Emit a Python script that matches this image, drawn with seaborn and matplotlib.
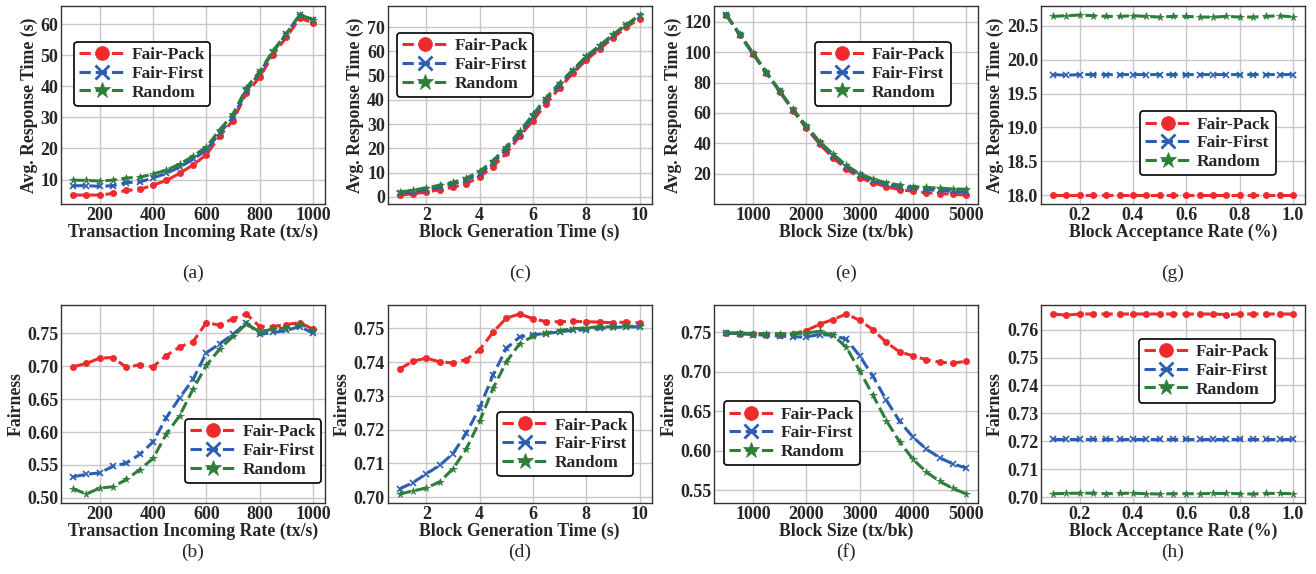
import numpy as np
import pandas as pd
import matplotlib.pyplot as plt
import seaborn as sns
from matplotlib.lines import Line2D

methods = ["Fair-Pack", "Fair-First", "Random"]

# x axes
rate = list(range(100, 1001, 50))
gen_time = [1 + 0.5 * i for i in range(19)]
blk_size = list(range(500, 5001, 250))
accept = [round(0.1 + 0.05 * i, 2) for i in range(19)]

# (a) response time vs incoming rate
a_pack = [5.0, 5.0, 5.0, 5.5, 6.5, 6.8, 8.2, 9.7, 12.0, 14.7, 18.0, 24.0, 29.0, 37.8, 43.0, 50.2, 55.8, 62.0, 60.5]
a_first = [8.0, 8.0, 7.8, 8.0, 9.0, 9.2, 10.5, 12.0, 14.0, 16.5, 19.5, 25.0, 30.0, 38.5, 44.5, 51.0, 57.0, 63.0, 61.5]
a_rand = [9.8, 9.7, 9.5, 9.8, 10.5, 10.7, 11.8, 13.0, 15.0, 17.5, 20.5, 26.0, 31.0, 39.5, 44.8, 51.5, 57.0, 63.0, 61.5]

# (b) fairness vs incoming rate
b_pack = [0.699, 0.704, 0.712, 0.713, 0.698, 0.702, 0.699, 0.716, 0.729, 0.737, 0.766, 0.762, 0.772, 0.779, 0.760, 0.760, 0.763, 0.766, 0.756]
b_first = [0.532, 0.536, 0.538, 0.548, 0.553, 0.566, 0.585, 0.622, 0.652, 0.680, 0.720, 0.734, 0.748, 0.766, 0.748, 0.751, 0.754, 0.760, 0.750]
b_rand = [0.514, 0.506, 0.515, 0.517, 0.528, 0.543, 0.560, 0.597, 0.625, 0.665, 0.701, 0.726, 0.745, 0.764, 0.752, 0.756, 0.758, 0.764, 0.755]

# (c) response time vs block generation time
c_pack = [0.8, 1.3, 2.0, 3.0, 4.0, 5.5, 8.3, 12.5, 18.0, 25.0, 31.5, 38.5, 45.0, 51.0, 56.5, 61.0, 65.5, 70.0, 73.5]
c_first = [1.5, 2.2, 3.0, 4.0, 5.3, 7.0, 9.5, 14.0, 19.5, 26.0, 33.0, 40.0, 46.0, 52.0, 57.5, 62.0, 66.5, 71.0, 74.5]
c_rand = [2.0, 2.8, 3.8, 4.8, 6.0, 7.8, 10.5, 15.0, 20.5, 27.0, 34.0, 41.0, 47.0, 52.5, 58.0, 62.5, 67.0, 71.0, 75.0]

# (d) fairness vs block generation time
d_pack = [0.7380, 0.7403, 0.7412, 0.7401, 0.7398, 0.7408, 0.7437, 0.7489, 0.7531, 0.7543, 0.7529, 0.7520, 0.7520, 0.7521, 0.7520, 0.7519, 0.7517, 0.7519, 0.7517]
d_first = [0.7024, 0.7043, 0.7069, 0.7094, 0.7129, 0.7190, 0.7265, 0.7362, 0.7441, 0.7475, 0.7482, 0.7485, 0.7490, 0.7495, 0.7496, 0.7500, 0.7503, 0.7505, 0.7505]
d_rand = [0.7009, 0.7018, 0.7027, 0.7045, 0.7084, 0.7143, 0.7225, 0.7322, 0.7401, 0.7455, 0.7477, 0.7486, 0.7494, 0.7499, 0.7502, 0.7505, 0.7505, 0.7507, 0.7506]

# (e) response time vs block size
e_pack = [124.5, 111.5, 99.0, 86.5, 74.0, 61.5, 50.0, 39.5, 30.5, 23.0, 17.5, 14.0, 11.5, 9.5, 8.5, 7.5, 7.0, 6.5, 6.0]
e_first = [124.5, 111.5, 99.0, 86.5, 74.5, 62.0, 51.0, 40.5, 32.0, 24.5, 19.0, 15.5, 13.0, 11.5, 10.5, 9.5, 9.0, 8.5, 8.0]
e_rand = [124.5, 112.0, 99.5, 87.0, 74.5, 62.5, 51.5, 41.0, 33.0, 25.5, 20.0, 16.5, 14.0, 12.5, 11.5, 11.0, 10.5, 10.0, 9.8]

# (f) fairness vs block size
f_pack = [0.749, 0.748, 0.748, 0.747, 0.747, 0.748, 0.752, 0.760, 0.766, 0.773, 0.765, 0.753, 0.737, 0.725, 0.720, 0.715, 0.712, 0.711, 0.713]
f_first = [0.749, 0.748, 0.747, 0.746, 0.745, 0.744, 0.744, 0.747, 0.746, 0.741, 0.720, 0.694, 0.664, 0.637, 0.617, 0.602, 0.591, 0.583, 0.578]
f_rand = [0.749, 0.749, 0.748, 0.748, 0.748, 0.748, 0.749, 0.751, 0.746, 0.731, 0.701, 0.670, 0.638, 0.611, 0.589, 0.573, 0.561, 0.552, 0.545]

# (g) response time vs acceptance rate
g_pack = [18.0] * 19
g_first = [19.78, 19.77, 19.78, 19.78, 19.78, 19.78, 19.78, 19.78, 19.78, 19.78, 19.78, 19.78, 19.78, 19.78, 19.78, 19.78, 19.78, 19.78, 19.78]
g_rand = [20.64, 20.65, 20.66, 20.65, 20.64, 20.64, 20.65, 20.64, 20.63, 20.64, 20.64, 20.63, 20.63, 20.64, 20.63, 20.63, 20.64, 20.65, 20.63]

# (h) fairness vs acceptance rate
h_pack = [0.7656, 0.7652, 0.7656, 0.7656, 0.7656, 0.7656, 0.7656, 0.7656, 0.7656, 0.7656, 0.7656, 0.7656, 0.7656, 0.7654, 0.7656, 0.7656, 0.7656, 0.7656, 0.7656]
h_first = [0.7207] * 19
h_rand = [0.7012, 0.7013, 0.7014, 0.7014, 0.7012, 0.7013, 0.7014, 0.7012, 0.7011, 0.7012, 0.7012, 0.7012, 0.7013, 0.7013, 0.7012, 0.7011, 0.7013, 0.7013, 0.7012]

sns.set_style("whitegrid")
plt.rcParams['font.family'] = ['Liberation Serif', 'DejaVu Serif']
plt.rcParams['font.weight'] = 'bold'
plt.rcParams['axes.labelweight'] = 'bold'

palette = {"Fair-Pack": "#ee2a2d", "Fair-First": "#2c5fb3", "Random": "#2f7d3b"}
mk = {"Fair-Pack": "o", "Fair-First": "x", "Random": "*"}

fig, axes = plt.subplots(2, 4, figsize=(13.16, 5.74), dpi=100)
fig.subplots_adjust(left=0.0464, right=0.9916, top=0.9895, bottom=0.1237,
                    wspace=0.2375, hspace=0.51)

panels = [
    (0, 0, "a", rate, (a_pack, a_first, a_rand), "Transaction Incoming Rate (tx/s)", "Avg. Response Time (s)",
     dict(loc="upper left", bbox_to_anchor=(0.05, 0.82))),
    (1, 0, "b", rate, (b_pack, b_first, b_rand), "Transaction Incoming Rate (tx/s)", "Fairness",
     dict(loc="lower right", bbox_to_anchor=(0.985, 0.10))),
    (0, 1, "c", gen_time, (c_pack, c_first, c_rand), "Block Generation Time (s)", "Avg. Response Time (s)",
     dict(loc="upper left", bbox_to_anchor=(0.035, 0.865))),
    (1, 1, "d", gen_time, (d_pack, d_first, d_rand), "Block Generation Time (s)", "Fairness",
     dict(loc="lower right", bbox_to_anchor=(0.93, 0.135))),
    (0, 2, "e", blk_size, (e_pack, e_first, e_rand), "Block Size (tx/bk)", "Avg. Response Time (s)",
     dict(loc="upper right", bbox_to_anchor=(0.895, 0.82))),
    (1, 2, "f", blk_size, (f_pack, f_first, f_rand), "Block Size (tx/bk)", "Fairness",
     dict(loc="lower left", bbox_to_anchor=(0.035, 0.19))),
    (0, 3, "g", accept, (g_pack, g_first, g_rand), "Block Acceptance Rate (%)", "Avg. Response Time (s)",
     dict(loc="lower right", bbox_to_anchor=(0.89, 0.145))),
    (1, 3, "h", accept, (h_pack, h_first, h_rand), "Block Acceptance Rate (%)", "Fairness",
     dict(loc="upper right", bbox_to_anchor=(0.885, 0.83))),
]

for r, c, tag, xs, series, xlabel, ylabel, legkw in panels:
    ax = axes[r, c]
    df = pd.DataFrame({
        "x": list(xs) * 3,
        "y": [v for s in series for v in s],
        "method": [m for m in methods for _ in xs],
    })
    for m in methods:
        sub = df[df["method"] == m]
        sns.lineplot(data=sub, x="x", y="y", ax=ax, color=palette[m], linestyle="--",
                     linewidth=2.2, marker=mk[m], markersize=5.5 if m == "Random" else 4.5,
                     markeredgewidth=1.2 if m == "Fair-First" else 0.5,
                     markeredgecolor=palette[m], legend=False)
    ax.set_xlabel(xlabel, fontsize=12.8, fontweight="bold", labelpad=0)
    ax.set_ylabel(ylabel, fontsize=12.8, fontweight="bold", labelpad=2)
    ax.tick_params(axis="both", labelsize=13, pad=2, length=0)
    ax.grid(True, color="#c8c8c8", linewidth=1.0)
    for sp in ax.spines.values():
        sp.set_edgecolor("#333333")
        sp.set_linewidth(1.0)

    handles = [Line2D([], [], color=palette[m], linestyle="--", linewidth=2.2,
                      marker=mk[m], markersize=10 if m != "Random" else 12,
                      markeredgewidth=2 if m == "Fair-First" else 0.5,
                      markeredgecolor=palette[m]) for m in methods]
    leg = ax.legend(handles, methods, frameon=True, fancybox=True, framealpha=1,
                    edgecolor="black", prop={"weight": "bold", "size": 12.5},
                    handlelength=2.6, handletextpad=0.4, labelspacing=0.15,
                    borderpad=0.3, borderaxespad=0, **legkw)
    leg.get_frame().set_linewidth(1.2)

    ypos = -0.35 if r == 0 else -0.25
    ax.text(0.5, ypos, f"({tag})", transform=ax.transAxes, ha="center", va="center",
            fontsize=14, fontweight="normal")

# tick layouts matching reference
axes[0, 0].set_xticks([200, 400, 600, 800, 1000])
axes[1, 0].set_xticks([200, 400, 600, 800, 1000])
axes[0, 0].set_yticks([10, 20, 30, 40, 50, 60])
axes[1, 0].set_yticks([0.50, 0.55, 0.60, 0.65, 0.70, 0.75])
axes[0, 1].set_xticks([2, 4, 6, 8, 10])
axes[0, 1].set_yticks([0, 10, 20, 30, 40, 50, 60, 70])
axes[1, 1].set_xticks([2, 4, 6, 8, 10])
axes[1, 1].set_yticks([0.70, 0.71, 0.72, 0.73, 0.74, 0.75])
axes[0, 2].set_xticks([1000, 2000, 3000, 4000, 5000])
axes[1, 2].set_xticks([1000, 2000, 3000, 4000, 5000])
axes[0, 2].set_yticks([20, 40, 60, 80, 100, 120])
axes[1, 2].set_yticks([0.55, 0.60, 0.65, 0.70, 0.75])
axes[0, 3].set_yticks([18.0, 18.5, 19.0, 19.5, 20.0, 20.5])
axes[1, 3].set_yticks([0.70, 0.71, 0.72, 0.73, 0.74, 0.75, 0.76])
axes[0, 3].yaxis.set_major_formatter(plt.FormatStrFormatter("%.1f"))
axes[1, 0].yaxis.set_major_formatter(plt.FormatStrFormatter("%.2f"))
axes[1, 1].yaxis.set_major_formatter(plt.FormatStrFormatter("%.2f"))
axes[1, 2].yaxis.set_major_formatter(plt.FormatStrFormatter("%.2f"))
axes[1, 3].yaxis.set_major_formatter(plt.FormatStrFormatter("%.2f"))
for ax in (axes[0, 3], axes[1, 3]):
    ax.set_xticks([0.2, 0.4, 0.6, 0.8, 1.0])
    ax.xaxis.set_major_formatter(plt.FormatStrFormatter("%.1f"))
for ax in axes.flat:
    for lab in ax.get_xticklabels() + ax.get_yticklabels():
        lab.set_fontweight("bold")

fig.savefig("out.png", dpi=100)
